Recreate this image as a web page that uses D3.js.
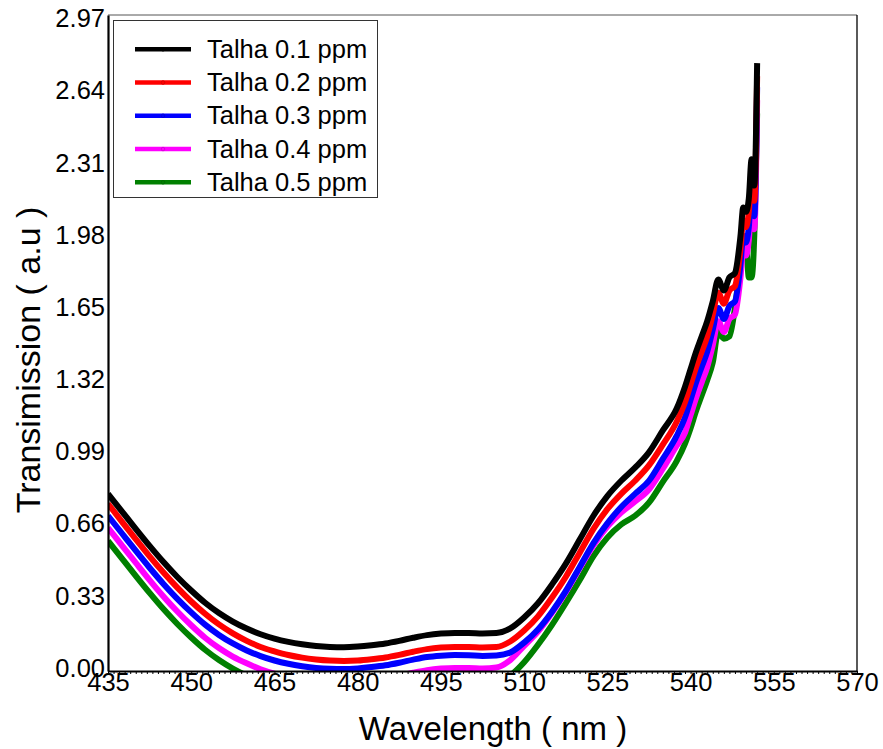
<!DOCTYPE html>
<html>
<head>
<meta charset="utf-8">
<script src="https://cdn.jsdelivr.net/npm/d3@7"></script>
<style>
    body { margin: 0; background: #fff; }
    svg text { font-family: "Liberation Sans", Arial, sans-serif; fill: #000; }
</style>
</head>
<body>
<div id="chart"></div>
<script>
// wavelengths (nm), shared by every series
var wavelengths = [435, 437.5, 440, 442.5, 445, 447.5, 450, 452.5, 455, 457.5, 460, 462.5, 465, 467.5, 470, 472.5,
    475, 477.5, 480, 482.5, 485, 487.5, 490, 492.5, 495, 497.5, 500, 502.5, 505, 507.5, 510, 512.5, 515, 517.5,
    520, 522.5, 525, 527.5, 530, 532.5, 535, 537.5, 539, 540, 541, 542, 543, 544, 545, 546, 547, 548, 549, 549.5,
    550, 550.5, 551, 551.5, 552];

var talha01 = [0.81, 0.73, 0.65, 0.572, 0.498, 0.43, 0.368, 0.312, 0.265, 0.226, 0.194, 0.168, 0.148, 0.133, 0.122, 0.114,
    0.11, 0.109, 0.112, 0.118, 0.126, 0.138, 0.152, 0.164, 0.171, 0.174, 0.174, 0.172, 0.174, 0.195, 0.245, 0.31, 0.395, 0.49,
    0.6, 0.71, 0.8, 0.87, 0.93, 1.0, 1.1, 1.2, 1.3, 1.38, 1.46, 1.53, 1.6, 1.69, 1.79, 1.74, 1.8, 1.82, 1.99, 2.12,
    2.1, 2.16, 2.34, 2.22, 2.78];
var talha02 = [0.765, 0.683, 0.603, 0.524, 0.45, 0.381, 0.318, 0.262, 0.213, 0.172, 0.138, 0.11, 0.09, 0.073, 0.061, 0.053,
    0.048, 0.046, 0.048, 0.054, 0.062, 0.074, 0.088, 0.1, 0.107, 0.11, 0.11, 0.108, 0.11, 0.135, 0.185, 0.25, 0.335, 0.43,
    0.54, 0.65, 0.74, 0.81, 0.87, 0.94, 1.035, 1.14, 1.23, 1.31, 1.39, 1.46, 1.53, 1.63, 1.73, 1.68, 1.74, 1.76, 1.93, 2.06,
    2.03, 2.1, 2.27, 2.15, 2.72];
var talha03 = [0.71, 0.63, 0.55, 0.472, 0.398, 0.33, 0.268, 0.212, 0.165, 0.126, 0.094, 0.068, 0.048, 0.033, 0.022, 0.014,
    0.01, 0.009, 0.012, 0.018, 0.026, 0.038, 0.052, 0.064, 0.07, 0.073, 0.072, 0.069, 0.071, 0.085, 0.13, 0.19, 0.27, 0.365,
    0.475, 0.585, 0.675, 0.75, 0.81, 0.87, 0.97, 1.075, 1.16, 1.24, 1.32, 1.39, 1.46, 1.56, 1.66, 1.61, 1.67, 1.69, 1.86, 1.99,
    1.96, 2.03, 2.2, 2.08, 2.67];
var talha04 = [0.655, 0.575, 0.495, 0.416, 0.341, 0.272, 0.209, 0.152, 0.105, 0.066, 0.035, 0.008, -0.012, -0.027, -0.038, -0.046,
    -0.05, -0.051, -0.048, -0.042, -0.034, -0.022, -0.008, 0.004, 0.011, 0.014, 0.014, 0.012, 0.016, 0.05, 0.115, 0.18, 0.265, 0.36,
    0.47, 0.575, 0.66, 0.725, 0.775, 0.83, 0.925, 1.03, 1.09, 1.17, 1.25, 1.32, 1.39, 1.49, 1.6, 1.55, 1.61, 1.63, 1.8, 1.93,
    1.9, 1.97, 2.14, 2.02, 2.61];
var talha05 = [0.595, 0.515, 0.435, 0.357, 0.283, 0.215, 0.153, 0.097, 0.05, 0.011, -0.021, -0.047, -0.067, -0.082, -0.093, -0.101,
    -0.105, -0.106, -0.103, -0.097, -0.089, -0.077, -0.063, -0.051, -0.044, -0.041, -0.041, -0.043, -0.041, -0.02, 0.04, 0.12, 0.21, 0.31,
    0.415, 0.525, 0.61, 0.67, 0.71, 0.77, 0.865, 0.96, 1.04, 1.11, 1.19, 1.26, 1.33, 1.41, 1.55, 1.52, 1.53, 1.66, 1.86, 1.92,
    1.94, 1.8, 1.8, 2.0, 2.55];

var seriesNames = ["Talha 0.1 ppm", "Talha 0.2 ppm", "Talha 0.3 ppm", "Talha 0.4 ppm", "Talha 0.5 ppm"];
var seriesColors = ["#000000", "#ff0000", "#0000ff", "#ff00ff", "#008000"];
var seriesValues = [talha01, talha02, talha03, talha04, talha05];

var xTicks = [435, 450, 465, 480, 495, 510, 525, 540, 555, 570];
var yTicks = [0, 0.33, 0.66, 0.99, 1.32, 1.65, 1.98, 2.31, 2.64, 2.97];

(function () {
    var width = 883, height = 749,
        // plot box edges (window.top is reserved, so no bare "top")
        mLeft = 108, mRight = 857, mTop = 15, mBottom = 671,
        fontStack = "Liberation Sans, Arial, sans-serif";

    var svg = d3.select("#chart").append("svg").attr("width", width).attr("height", height);

    var x = d3.scaleLinear().domain([435, 570]).range([mLeft, mRight]);
    var y = d3.scaleLinear().domain([0, 3.0]).range([mBottom, mTop]);

    svg.append("clipPath").attr("id", "plotclip")
        .append("rect").attr("x", mLeft).attr("y", mTop).attr("width", mRight - mLeft).attr("height", mBottom - mTop);

    // frame: thin top/right, heavier left/bottom
    svg.append("line").attr("x1", mLeft).attr("x2", mRight).attr("y1", mTop).attr("y2", mTop)
        .attr("stroke", "#555").attr("stroke-width", 1);
    svg.append("line").attr("x1", mRight).attr("x2", mRight).attr("y1", mTop).attr("y2", mBottom)
        .attr("stroke", "#000").attr("stroke-width", 1.3);

    var line = d3.line()
        .x(function (d, i) { return x(wavelengths[i]); })
        .y(function (d) { return y(d); })
        .curve(d3.curveMonotoneX);

    var plot = svg.append("g").attr("clip-path", "url(#plotclip)");
    // draw last series first so black sits on top
    for (var s = seriesValues.length - 1; s >= 0; s--) {
        plot.append("path")
            .datum(seriesValues[s])
            .attr("d", line)
            .attr("fill", "none")
            .attr("stroke", seriesColors[s])
            .attr("stroke-width", 6)
            .attr("stroke-linejoin", "round");
    }

    // minor ticks on the wavelength axis
    var minor = svg.append("g").attr("transform", "translate(0," + mBottom + ")")
        .call(d3.axisBottom(x).tickValues(d3.range(435, 571, 1)).tickSize(3).tickFormat(""));
    minor.select(".domain").remove();
    minor.selectAll("line").attr("stroke", "#000").attr("stroke-width", 1);

    var xAxis = svg.append("g").attr("transform", "translate(0," + mBottom + ")")
        .call(d3.axisBottom(x).tickValues(xTicks).tickSize(0).tickPadding(2).tickFormat(d3.format("d")));
    xAxis.attr("font-size", null).attr("font-family", null);
    xAxis.select(".domain").attr("stroke", "#000").attr("stroke-width", 2.2);
    xAxis.selectAll("text").attr("font-size", 25.5).attr("font-family", fontStack).attr("fill", "#000");

    var yAxis = svg.append("g").attr("transform", "translate(" + mLeft + ",0)")
        .call(d3.axisLeft(y).tickValues(yTicks).tickSize(0).tickPadding(3).tickFormat(d3.format(".2f")));
    yAxis.attr("font-size", null).attr("font-family", null);
    yAxis.select(".domain").attr("stroke", "#000").attr("stroke-width", 2.2);
    yAxis.selectAll("text").attr("font-size", 25.5).attr("font-family", fontStack)
        .attr("fill", "#000").attr("y", -3);

    svg.append("text").attr("x", 493).attr("y", 740).attr("text-anchor", "middle")
        .attr("font-size", 33).text("Wavelength ( nm )");
    svg.append("text").attr("transform", "translate(40,360) rotate(-90)").attr("text-anchor", "middle")
        .attr("font-size", 34).text("Transimission ( a.u )");

    // legend
    var legend = svg.append("g");
    legend.append("rect").attr("x", 113.5).attr("y", 20.5).attr("width", 264).attr("height", 177)
        .attr("fill", "#fff").attr("stroke", "#333").attr("stroke-width", 1);
    seriesNames.forEach(function (name, i) {
        var ly = 49.3 + i * 33.25;
        legend.append("line").attr("x1", 135).attr("x2", 191).attr("y1", ly).attr("y2", ly)
            .attr("stroke", seriesColors[i]).attr("stroke-width", 4.5);
        legend.append("circle").attr("cx", 163).attr("cy", ly).attr("r", 1.8)
            .attr("fill", seriesColors[i]).attr("stroke", d3.color(seriesColors[i]).darker(0.6)).attr("stroke-width", 0.8);
        legend.append("text").attr("x", 207).attr("y", ly + 8.5).attr("font-size", 25.5).text(name);
    });
})();
</script>
</body>
</html>
